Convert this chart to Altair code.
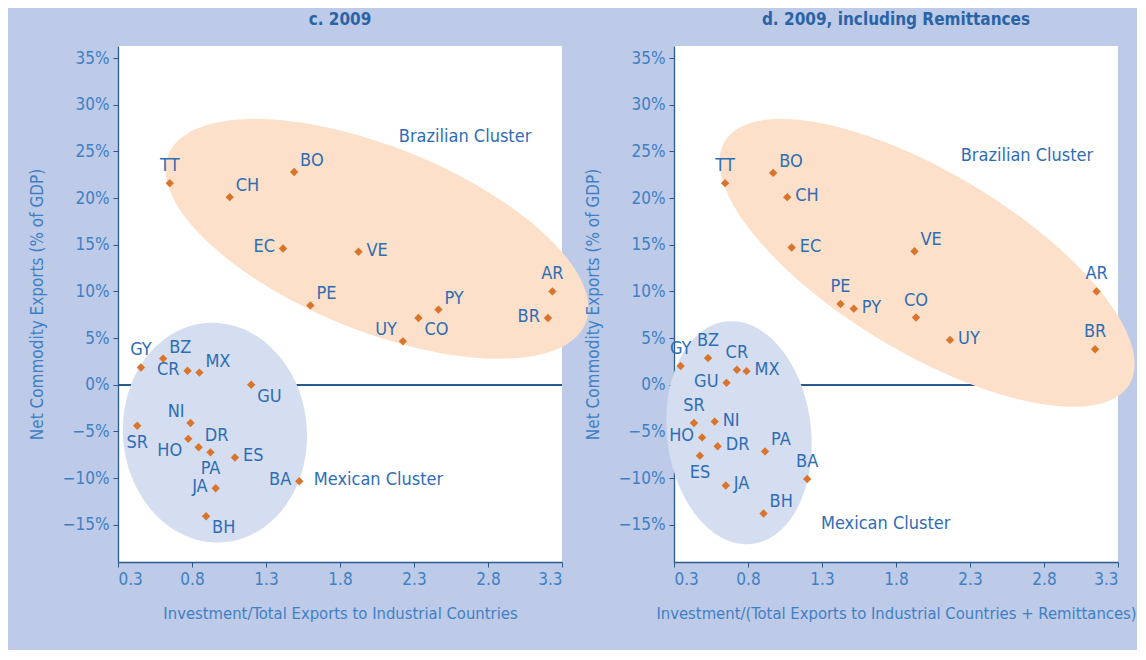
import math
import altair as alt
import pandas as pd

# ---------------- data ----------------
x_ticks = [0.3, 0.8, 1.3, 1.8, 2.3, 2.8, 3.3]
y_ticks = [-15, -10, -5, 0, 5, 10, 15, 20, 25, 30, 35]

# panel c. 2009
c_codes = ["TT", "BO", "CH", "EC", "VE", "PE", "CO", "PY", "UY", "AR", "BR",
           "GY", "BZ", "CR", "MX", "GU", "SR", "NI", "HO", "DR", "PA", "ES", "JA", "BH", "BA"]
c_x = [0.65, 1.49, 1.055, 1.415, 1.925, 1.60, 2.33, 2.465, 2.225, 3.235, 3.205,
       0.455, 0.605, 0.77, 0.85, 1.20, 0.43, 0.79, 0.775, 0.845, 0.925, 1.09, 0.96, 0.895, 1.525]
c_y = [21.6, 22.8, 20.1, 14.6, 14.25, 8.5, 7.15, 8.05, 4.65, 10.0, 7.15,
       1.85, 2.8, 1.5, 1.3, 0.0, -4.4, -4.1, -5.8, -6.7, -7.25, -7.8, -11.1, -14.1, -10.35]
c_pos = ["t", "tr", "tr", "l", "r", "tr", "br", "tr", "tl", "t", "l",
         "t", "tr", "l", "tr", "br", "b", "tl", "bl", "tr", "b", "r", "l", "br", "l"]

# panel d. 2009, including remittances
d_codes = ["TT", "BO", "CH", "EC", "VE", "PE", "PY", "CO", "UY", "AR", "BR",
           "GY", "BZ", "CR", "MX", "GU", "SR", "NI", "HO", "DR", "ES", "PA", "JA", "BH", "BA"]
d_x = [0.645, 0.97, 1.065, 1.095, 1.925, 1.425, 1.515, 1.935, 2.165, 3.155, 3.145,
       0.345, 0.53, 0.725, 0.79, 0.655, 0.435, 0.575, 0.49, 0.595, 0.475, 0.915, 0.65, 0.905, 1.20]
d_y = [21.6, 22.7, 20.1, 14.7, 14.3, 8.65, 8.15, 7.2, 4.8, 10.0, 3.8,
       2.0, 2.85, 1.6, 1.45, 0.2, -4.1, -3.95, -5.65, -6.6, -7.6, -7.15, -10.8, -13.8, -10.1]
d_pos = ["t", "tr", "r", "r", "tr", "t", "r", "t", "r", "t", "t",
         "t", "t", "t", "r", "l", "t", "r", "l", "r", "b", "tr", "r", "tr", "t"]

cluster_names = ["Brazilian Cluster", "Mexican Cluster"]
c_center_x = [2.05, 0.955]
c_center_y = [15.63, -5.14]
c_name_x = [2.645, 2.06]
c_name_y = [26.55, -10.2]
d_center_x = [2.01, 0.739]
d_center_y = [13.06, -5.14]
d_name_x = [2.685, 1.73]
d_name_y = [24.5, -14.9]

# ---------------- style ----------------
FONT = "Liberation Sans Narrow, DejaVu Sans Condensed, sans-serif"
BG = "#BDCAE8"
ORANGE_FILL = "#FDE0C9"
BLUE_FILL = "#D5DEF0"
MARKER = "#D8742C"
LABEL = "#2E6DB4"
AXIS_LINE = "#2B5A8C"
TICK_LABEL = "#3F80C4"
TITLE = "#2A64A6"

OFFS = {
    "r": (8, -1, "left"), "l": (-8, -1, "right"),
    "t": (0, -17, "center"), "b": (0, 17, "center"),
    "tr": (6, -11, "left"), "tl": (-6, -11, "right"),
    "br": (6, 12, "left"), "bl": (-6, 12, "right"),
}


def ellipse_path(a, b, deg, n=120):
    """Custom symbol outline (1 unit = 100 px at size 40000)."""
    t = math.radians(deg)
    c, s = math.cos(t), math.sin(t)
    parts = []
    for i in range(n):
        ph = 2 * math.pi * i / n
        u, v = a * math.cos(ph), b * math.sin(ph)
        x = (u * c - v * s) / 100
        y = (u * s + v * c) / 100
        parts.append(("M" if i == 0 else "L") + f"{x:.4f},{y:.4f}")
    return " ".join(parts) + " Z"


W, H = 444, 516


def panel(codes, xs, ys, pos, cx, cy, nx, ny, shapes, title, xtitle):
    pts = pd.DataFrame({"code": codes, "x": xs, "y": ys, "pos": pos})
    xenc = alt.X("x:Q", scale=alt.Scale(domain=[0.3, 3.3], nice=False, zero=False),
                 axis=alt.Axis(values=x_ticks, format=".1f", title=xtitle))
    yenc = alt.Y("y:Q", scale=alt.Scale(domain=[-19, 36.3], nice=False, zero=False),
                 axis=alt.Axis(values=y_ticks, format="d", labelExpr="datum.label + '%'",
                               title="Net Commodity Exports (% of GDP)"))

    layers = []
    layers.append(alt.Chart(pts).mark_rule(color=AXIS_LINE, strokeWidth=1.3).encode(y=alt.datum(0)))
    fills = [ORANGE_FILL, BLUE_FILL]
    for i in range(2):
        a, b, ang = shapes[i]
        cdf = pd.DataFrame({"x": [cx[i]], "y": [cy[i]]})
        layers.append(
            alt.Chart(cdf).mark_point(shape=ellipse_path(a, b, ang), size=40000, filled=True,
                                      opacity=1, color=fills[i], strokeWidth=0)
            .encode(x=xenc, y=yenc)
        )
    layers.append(
        alt.Chart(pts).mark_point(shape="diamond", size=70, filled=True, opacity=1,
                                  color=MARKER, strokeWidth=0)
        .encode(x=xenc, y=yenc)
    )
    for p, (dx, dy, al) in OFFS.items():
        layers.append(
            alt.Chart(pts).transform_filter(alt.datum.pos == p)
            .mark_text(dx=dx, dy=dy, align=al, baseline="middle", font=FONT, fontSize=18,
                       color=LABEL)
            .encode(x=xenc, y=yenc, text="code:N")
        )
    ndf = pd.DataFrame({"x": nx, "y": ny, "name": cluster_names})
    layers.append(
        alt.Chart(ndf).mark_text(align="center", baseline="middle", font=FONT, fontSize=18,
                                 color=LABEL)
        .encode(x=xenc, y=yenc, text="name:N")
    )
    return alt.layer(*layers).properties(
        width=W, height=H,
        title=alt.TitleParams(title, font=FONT, fontSize=17, fontWeight="bold",
                              color=TITLE, offset=17, anchor="middle"),
    )


left = panel(c_codes, c_x, c_y, c_pos, c_center_x, c_center_y, c_name_x, c_name_y,
             [(225, 92, 22), (110, 92, 85.6)], "c. 2009",
             "Investment/Total Exports to Industrial Countries")
right = panel(d_codes, d_x, d_y, d_pos, d_center_x, d_center_y, d_name_x, d_name_y,
              [(236, 90, 31), (112, 72, 83.4)], "d. 2009, including Remittances",
              "Investment/(Total Exports to Industrial Countries + Remittances)")

chart = (
    alt.hconcat(left, right, spacing=112, bounds="flush")
    .properties(padding={"left": 20, "top": 3, "right": 0, "bottom": 28})
    .configure(background=BG)
    .configure_view(fill="white", stroke=None)
    .configure_axis(
        grid=False, domainColor=AXIS_LINE, tickColor=AXIS_LINE, domainWidth=1.3,
        tickSize=5, labelFont=FONT, titleFont=FONT, labelFontSize=17, titleFontSize=17,
        labelColor=TICK_LABEL, titleColor=TICK_LABEL, titleFontWeight="normal",
        labelPadding=4,
    )
    .configure_axisX(titlePadding=18, titleFontSize=16.5)
    .configure_axisY(titlePadding=16)
)

chart.save("out.html", embed_options={"renderer": "svg", "actions": False})
